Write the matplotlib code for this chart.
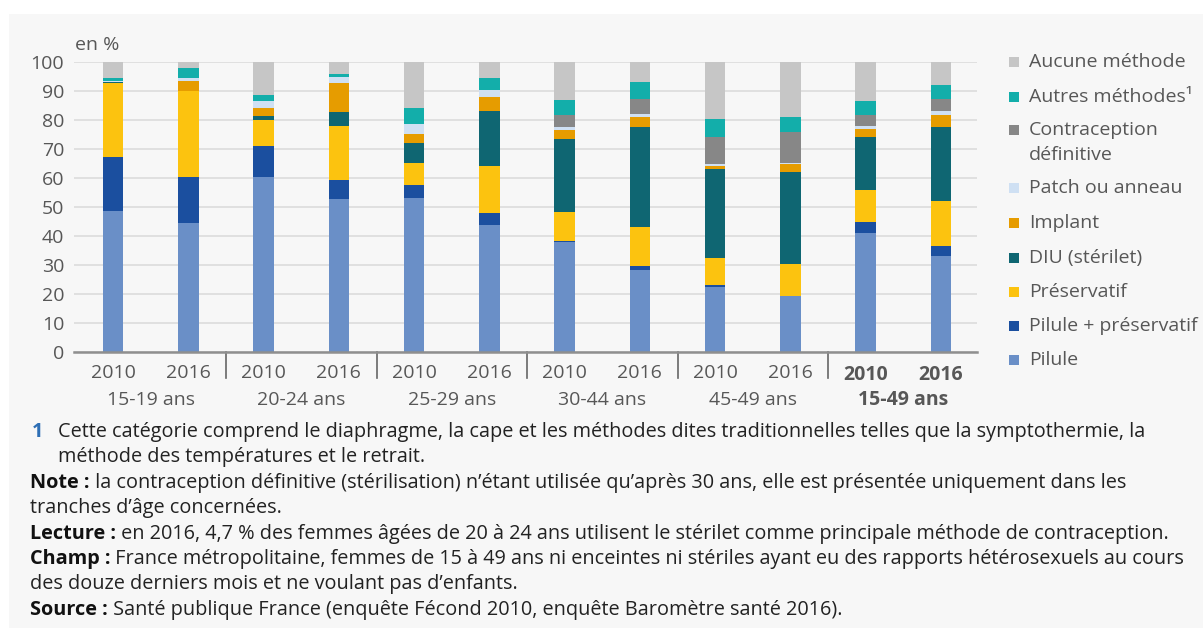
import matplotlib.pyplot as plt
from matplotlib.patches import Rectangle
import numpy as np

plt.rcParams['font.family'] = ['Open Sans', 'DejaVu Sans']

# ---------------------------------------------------------------------
# Data (in %)
# ---------------------------------------------------------------------
years = ["2010", "2016"] * 6
groups = ["15-19 ans", "20-24 ans", "25-29 ans", "30-44 ans", "45-49 ans", "15-49 ans"]

pilule        = [48.6, 44.5, 60.3, 52.6, 53.2, 43.7, 38.0, 28.4, 22.3, 19.2, 40.9, 33.0]
pilule_pres   = [18.6, 16.0, 10.7, 6.8, 4.3, 4.1, 0.4, 1.1, 0.7, 0.2, 4.0, 3.4]
preservatif   = [25.7, 29.5, 9.0, 18.6, 7.6, 16.4, 9.8, 13.7, 9.5, 11.0, 10.8, 15.5]
diu           = [0.3, 0.0, 1.5, 4.7, 6.9, 18.9, 25.4, 34.5, 30.7, 31.7, 18.6, 25.7]
implant       = [0.0, 3.4, 2.7, 9.9, 3.3, 4.9, 2.9, 3.3, 1.1, 2.8, 2.7, 4.1]
patch         = [0.3, 1.2, 2.3, 2.1, 3.2, 2.2, 1.2, 0.9, 0.5, 0.3, 0.9, 1.3]
definitive    = [0.0, 0.0, 0.0, 0.0, 0.0, 0.0, 4.0, 5.4, 9.4, 10.7, 3.7, 4.2]
autres        = [1.0, 3.2, 2.2, 1.1, 5.7, 4.4, 5.2, 5.8, 6.0, 5.0, 4.8, 4.7]
aucune        = [5.5, 2.2, 11.3, 4.2, 15.8, 5.4, 13.1, 6.9, 19.8, 19.1, 13.6, 8.1]

series = [
    ("Pilule", pilule, "#6a8fc7"),
    ("Pilule + préservatif", pilule_pres, "#1b4f9f"),
    ("Préservatif", preservatif, "#fcc30f"),
    ("DIU (stérilet)", diu, "#0f6672"),
    ("Implant", implant, "#e69c00"),
    ("Patch ou anneau", patch, "#cfe0f3"),
    ("Contraception\ndéfinitive", definitive, "#878787"),
    ("Autres méthodes¹", autres, "#13aeaa"),
    ("Aucune méthode", aucune, "#c6c6c6"),
]

footnotes = [
    ("1", "Cette catégorie comprend le diaphragme, la cape et les méthodes dites traditionnelles telles que la symptothermie, la"),
    ("", "méthode des températures et le retrait."),
    ("Note :", " la contraception définitive (stérilisation) n’étant utilisée qu’après 30 ans, elle est présentée uniquement dans les"),
    ("", "tranches d’âge concernées."),
    ("Lecture :", " en 2016, 4,7 % des femmes âgées de 20 à 24 ans utilisent le stérilet comme principale méthode de contraception."),
    ("Champ :", " France métropolitaine, femmes de 15 à 49 ans ni enceintes ni stériles ayant eu des rapports hétérosexuels au cours"),
    ("", "des douze derniers mois et ne voulant pas d’enfants."),
    ("Source :", " Santé publique France (enquête Fécond 2010, enquête Baromètre santé 2016)."),
]

W, H = 1203, 639
FS_AX = 14
FS_NOTE = 14.3
GREY = "#575757"

fig = plt.figure(figsize=(W / 100, H / 100), dpi=100, facecolor="white")
# light gray panel behind everything
fig.patches.append(Rectangle((9 / W, 1 - 628 / H), 1 - 9 / W, (628 - 14) / H,
                             transform=fig.transFigure, facecolor="#f7f7f7",
                             edgecolor="none", zorder=-10))

ax = fig.add_axes([74 / W, 1 - 352 / H, (977 - 74) / W, (352 - 62) / H])
ax.set_facecolor("none")

x = np.arange(len(years))
bottom = np.zeros(len(years))
for name, vals, col in series:
    ax.bar(x, vals, bottom=bottom, width=0.275, color=col, zorder=3)
    bottom += np.array(vals)

ax.set_ylim(0, 100)
ax.set_xlim(-0.52, 11.48)
ax.set_yticks(range(0, 101, 10))
ax.yaxis.grid(True, color="#dedede", linewidth=1.3, zorder=0)
for s in ["top", "right", "left"]:
    ax.spines[s].set_visible(False)
ax.spines["bottom"].set_color("#8f8f8f")
ax.spines["bottom"].set_linewidth(1.8)
ax.spines["bottom"].set_zorder(4)
ax.tick_params(axis="y", length=0, labelsize=FS_AX, labelcolor=GREY, pad=7)
ax.tick_params(axis="x", length=0, labelsize=FS_AX, labelcolor=GREY, pad=9)
ax.set_xticks(x)
ax.set_xticklabels(years)
for i, lab in enumerate(ax.get_xticklabels()):
    if i >= 10:
        lab.set_fontweight("bold")

# group labels and separators below the axis
for g, name in enumerate(groups):
    ax.text(2 * g + 0.5, -16.5, name, ha="center", va="center", fontsize=FS_AX,
            color=GREY, fontweight="bold" if g == 5 else "normal",
            transform=ax.transData, clip_on=False)
    if g > 0:
        ax.plot([2 * g - 0.5, 2 * g - 0.5], [0, -9], color="#666666",
                linewidth=1.2, clip_on=False, zorder=4)

fig.text(75 / W, 1 - 45 / H, "en %", fontsize=FS_AX, color=GREY,
         ha="left", va="center")

# legend drawn by hand (top = Aucune méthode)
leg_y = [62, 97, 130, 188, 223, 258, 292, 326, 360]
for (name, vals, col), yy in zip(series[::-1], leg_y):
    fig.patches.append(Rectangle((1009 / W, 1 - (yy + 5) / H), 10 / W, 10 / H,
                                 transform=fig.transFigure, facecolor=col,
                                 edgecolor="none"))
    for j, line in enumerate(name.split("\n")):
        fig.text(1029 / W, 1 - (yy + 25 * j) / H, line, fontsize=FS_AX, color=GREY,
                 ha="left", va="center")

# footnotes with bold lead-ins
fig.canvas.draw()
renderer = fig.canvas.get_renderer()
y0 = 432
for k, (lead, rest) in enumerate(footnotes):
    yy = 1 - (y0 + k * 25.4) / H
    xx = 30 / W
    if lead == "1":
        fig.text(32 / W, yy, "1", fontsize=FS_NOTE, color="#2e6fb5", fontweight="bold",
                 va="center", ha="left")
        fig.text(58 / W, yy, rest, fontsize=FS_NOTE, color="#222222", va="center", ha="left")
        continue
    if lead == "":
        px = 58 if k == 1 else 30
        fig.text(px / W, yy, rest, fontsize=FS_NOTE, color="#222222", va="center", ha="left")
        continue
    t = fig.text(xx, yy, lead, fontsize=FS_NOTE, color="#111111", fontweight="bold",
                 va="center", ha="left")
    bb = t.get_window_extent(renderer)
    fig.text(bb.x1 / W, yy, rest, fontsize=FS_NOTE, color="#222222", va="center", ha="left")

fig.savefig("out.png", dpi=100, facecolor="white")
